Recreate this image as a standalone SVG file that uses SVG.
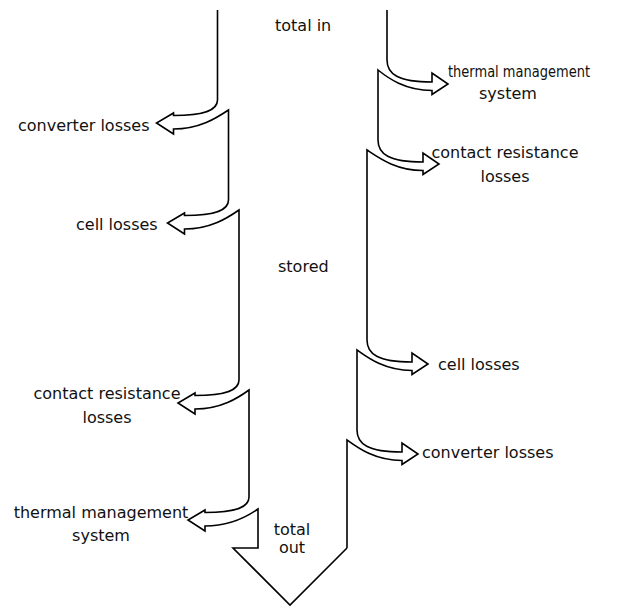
<svg xmlns="http://www.w3.org/2000/svg" width="633" height="609" viewBox="0 0 633 609">
<style>
.flow{fill:none;stroke:#000;stroke-width:1.6;stroke-linejoin:miter}
text{font-family:"DejaVu Sans",Verdana,"Liberation Sans",sans-serif;font-size:16px;fill:#111}
.m{text-anchor:middle}
</style>
<rect width="633" height="609" fill="#fff"/>
<g id="connectors">
<path id="left-edge" class="flow" d="M 217.5,10 V 100 C 217.5,110 205.5,115.5 173.5,115.5 V 113 L 156.5,123 L 173.5,134 V 129 C 199.5,129 216.5,118 228.5,110 V 200 C 228.5,210 216.5,215.5 184.5,215.5 V 213 L 167.5,223 L 184.5,234 V 229 C 210.5,229 227.5,218 239,210 V 380 C 239,390 227,395.5 195,395.5 V 393 L 178,403 L 195,414 V 409 C 221,409 238,398 249,390 V 497 C 249,507 237,512.5 205,512.5 V 510 L 188,520 L 205,531 V 526 C 231,526 248,516 258,509 V 548 H 233 L 290,605 L 347,548"/>
<path id="right-edge" class="flow" d="M 387,10 V 60 C 387,74 398,82 432,82 V 73 L 448,84 L 432,94.5 V 90.5 C 405,90.5 388,78 378,70 V 140 C 378,154 389,162 423,162 V 153 L 439,164 L 423,174.5 V 170.5 C 396,170.5 379,158 367,150 V 340 C 367,354 378,362 412,362 V 353 L 428,364 L 412,374.5 V 370.5 C 385,370.5 368,358 357,350 V 430 C 357,444 368,452 402,452 V 443 L 418,454 L 402,464.5 V 460.5 C 375,460.5 358,448 347,440 V 548"/>
</g>
<g id="total-in"><text x="275" y="31">total in</text></g>
<g id="stored"><text x="278" y="272">stored</text></g>
<g id="total-out"><text class="m" x="292" y="535">total</text><text class="m" x="292" y="553">out</text></g>
<g id="in-thermal"><text x="448" y="77" textLength="142" lengthAdjust="spacingAndGlyphs">thermal management</text><text x="479" y="99">system</text></g>
<g id="in-contact"><text class="m" x="505" y="158">contact resistance</text><text class="m" x="505" y="182">losses</text></g>
<g id="in-cell"><text x="438" y="370">cell losses</text></g>
<g id="in-converter"><text x="422" y="458">converter losses</text></g>
<g id="out-converter"><text x="18" y="131">converter losses</text></g>
<g id="out-cell"><text x="76" y="230">cell losses</text></g>
<g id="out-contact"><text class="m" x="107" y="399">contact resistance</text><text class="m" x="107" y="423">losses</text></g>
<g id="out-thermal"><text class="m" x="101" y="518">thermal management</text><text class="m" x="101" y="541">system</text></g>
</svg>
